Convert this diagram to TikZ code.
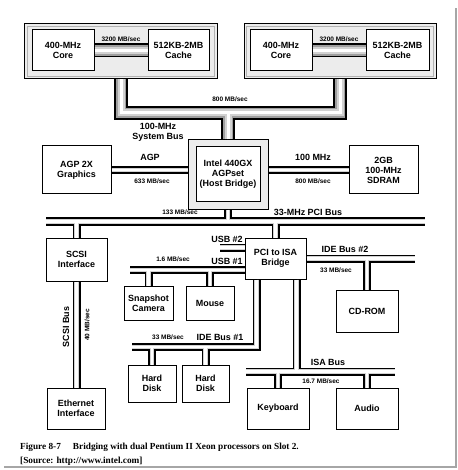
\documentclass[tikz,border=0pt]{standalone}
\usepackage{fontspec}
\setmainfont{Liberation Sans}
\newfontfamily\capfont{Liberation Serif}
\tikzset{
	box/.style={draw, line width=1bp, fill=white, align=center, inner sep=0pt, font=\fontsize{9}{10}\selectfont\bfseries},
	modframe/.style={draw, line width=1bp, fill=gray!15, inner sep=0pt},
	lbl/.style={inner sep=0pt, align=center, font=\fontsize{9}{10}\selectfont\bfseries},
	rate/.style={inner sep=0pt, font=\fontsize{6.5}{7}\selectfont\bfseries},
	capline/.style={anchor=base west, inner sep=0pt, font=\capfont\fontsize{9.3}{10}\selectfont\bfseries},
}
\begin{document}
\begin{tikzpicture}[x=1bp, y=-1bp, line join=miter]
	\useasboundingbox (0,0) rectangle (458,470);
	\draw[gray!70, line width=2bp] (4,467) -- (456,467) -- (456,8);
	\node[modframe, minimum width=192bp, minimum height=55bp] (modA) at (121,51.5) {};
	\node[modframe, minimum width=192bp, minimum height=55bp] (modB) at (340,51.5) {};
	\draw[gray!60] ([shift={(3,3)}]modA.north west) rectangle ([shift={(-3,-3)}]modA.south east);
	\draw[gray!60] ([shift={(3,3)}]modB.north west) rectangle ([shift={(-3,-3)}]modB.south east);
	\node[box, minimum width=62bp, minimum height=41bp] (coreA) at (63,50.5) {400-MHz\\Core};
	\node[box, minimum width=61bp, minimum height=41bp] (cacheA) at (178.5,50.5) {512KB-2MB\\Cache};
	\node[box, minimum width=62bp, minimum height=41bp] (coreB) at (281,50.5) {400-MHz\\Core};
	\node[box, minimum width=63bp, minimum height=41bp] (cacheB) at (397.5,50.5) {512KB-2MB\\Cache};
	\node[modframe, minimum width=80bp, minimum height=69bp] (hostF) at (228,174.5) {};
	\node[box, minimum width=64bp, minimum height=55bp] (host) at (228,174.5) {Intel 440GX\\AGPset\\(Host Bridge)};
	\node[box, minimum width=69bp, minimum height=48bp] (agp) at (76.5,170) {AGP 2X\\Graphics};
	\node[box, minimum width=69bp, minimum height=48bp] (sdram) at (383.5,170) {2GB\\100-MHz\\SDRAM};
	\node[box, minimum width=61bp, minimum height=43bp] (scsi) at (76.5,259.5) {SCSI\\Interface};
	\node[box, minimum width=58bp, minimum height=41bp] (eth) at (76,408.5) {Ethernet\\Interface};
	\node[box, minimum width=61bp, minimum height=41bp] (pcisa) at (275.5,258.5) {PCI to ISA\\Bridge};
	\node[box, minimum width=49bp, minimum height=34bp] (cam) at (148.5,303) {Snapshot\\Camera};
	\node[box, minimum width=48bp, minimum height=34bp] (mouse) at (210,303) {Mouse};
	\node[box, minimum width=48bp, minimum height=37bp] (hdA) at (152,383.5) {Hard\\Disk};
	\node[box, minimum width=47bp, minimum height=37bp] (hdB) at (205.5,383.5) {Hard\\Disk};
	\node[box, minimum width=62bp, minimum height=42bp] (cdrom) at (367,311) {CD-ROM};
	\node[box, minimum width=62bp, minimum height=41bp] (kbd) at (278,408.5) {Keyboard};
	\node[box, minimum width=62bp, minimum height=41bp] (audio) at (367,408.5) {Audio};
	\coordinate (sysbus) at (0,113);
	\coordinate (pciL) at (46,221.5);
	\coordinate (pciR) at (425,221.5);
	\coordinate (usbtwo) at (220,247.5);
	\coordinate (usboneL) at (130,270);
	\coordinate (ideonetop) at ([xshift=12bp]pcisa.south west);
	\coordinate (ideoneL) at (132,347);
	\coordinate (isatop) at ([xshift=-10bp]pcisa.south east);
	\coordinate (isaL) at (246,371.5);
	\coordinate (isaR) at (395,371.5);
	\coordinate (idetwoR) at (415,258.5);
	\foreach \w/\c in {14/black,10.5/gray!75,7/gray!35,3/white}
		\draw[line width=\w bp, draw=\c] (coreA) -- (cacheA) (coreB) -- (cacheB)
			(modA.south) |- (sysbus -| hostF.north) -| (modB.south)
			(hostF.north) -- (hostF.north |- sysbus);
	\foreach \w/\c in {8/black,4.6/gray!35,2.6/white}
		\draw[line width=\w bp, draw=\c] (agp.east) -- (agp.east -| hostF.west)
			(sdram.west) -- (sdram.west -| hostF.east)
			(hostF.south) -- (hostF.south |- pciL) (pciL) -- (pciR)
			(scsi.north) -- (scsi.north |- pciL) (pcisa.north) -- (pcisa.north |- pciL)
			(scsi.south) -- (scsi.south |- eth.north)
			(usbtwo) -- (usbtwo -| pcisa.west) (usboneL) -- (usboneL -| pcisa.west)
			(cam.north) -- (cam.north |- usboneL) (mouse.north) -- (mouse.north |- usboneL)
			(ideonetop) |- (ideoneL)
			(hdA.north) -- (hdA.north |- ideoneL) (hdB.north) -- (hdB.north |- ideoneL)
			(isatop) -- (isatop |- isaL) (isaL) -- (isaR)
			(kbd.north) -- (kbd.north |- isaL) (audio.north) -- (audio.north |- isaL)
			(pcisa.east) -- (idetwoR) (cdrom.north) -- (cdrom.north |- idetwoR);
	\node[rate] (rcacheA) at (121,39) {3200 MB/sec};
	\node[rate] (rcacheB) at (339,39) {3200 MB/sec};
	\node[rate] (rsys) at (230,99) {800 MB/sec};
	\node[lbl] (lsys) at (158,132.5) {100-MHz\\System Bus};
	\node[lbl] (lagp) at (150,157) {AGP};
	\node[rate] (ragp) at (152,181) {633 MB/sec};
	\node[lbl] (lmem) at (313,157) {100 MHz};
	\node[rate] (rmem) at (313,181) {800 MB/sec};
	\node[rate] (rpci) at (180,212) {133 MB/sec};
	\node[lbl] (lpci) at (308,212) {33-MHz PCI Bus};
	\node[lbl] (lusbtwo) at (227,239) {USB \#2};
	\node[lbl] (lusbone) at (227,261) {USB \#1};
	\node[rate] (rusb) at (173,259) {1.6 MB/sec};
	\node[lbl, rotate=90] (lscsi) at (66,327) {SCSI Bus};
	\node[rate, rotate=90] (rscsi) at (87,325) {40 MB/sec};
	\node[lbl] (lideone) at (220,337) {IDE Bus \#1};
	\node[rate] (rideone) at (168,337) {33 MB/sec};
	\node[lbl] (lidetwo) at (345,249) {IDE Bus \#2};
	\node[rate] (ridetwo) at (336,270) {33 MB/sec};
	\node[lbl] (lisa) at (328,362) {ISA Bus};
	\node[rate] (risa) at (321,381) {16.7 MB/sec};
	\node[capline] (capA) at (20,449) {Figure 8-7\hspace{1.3em}Bridging with dual Pentium II Xeon processors on Slot 2.};
	\node[capline] (capB) at (20,463) {[Source: http://www.intel.com]};
\end{tikzpicture}
\end{document}
